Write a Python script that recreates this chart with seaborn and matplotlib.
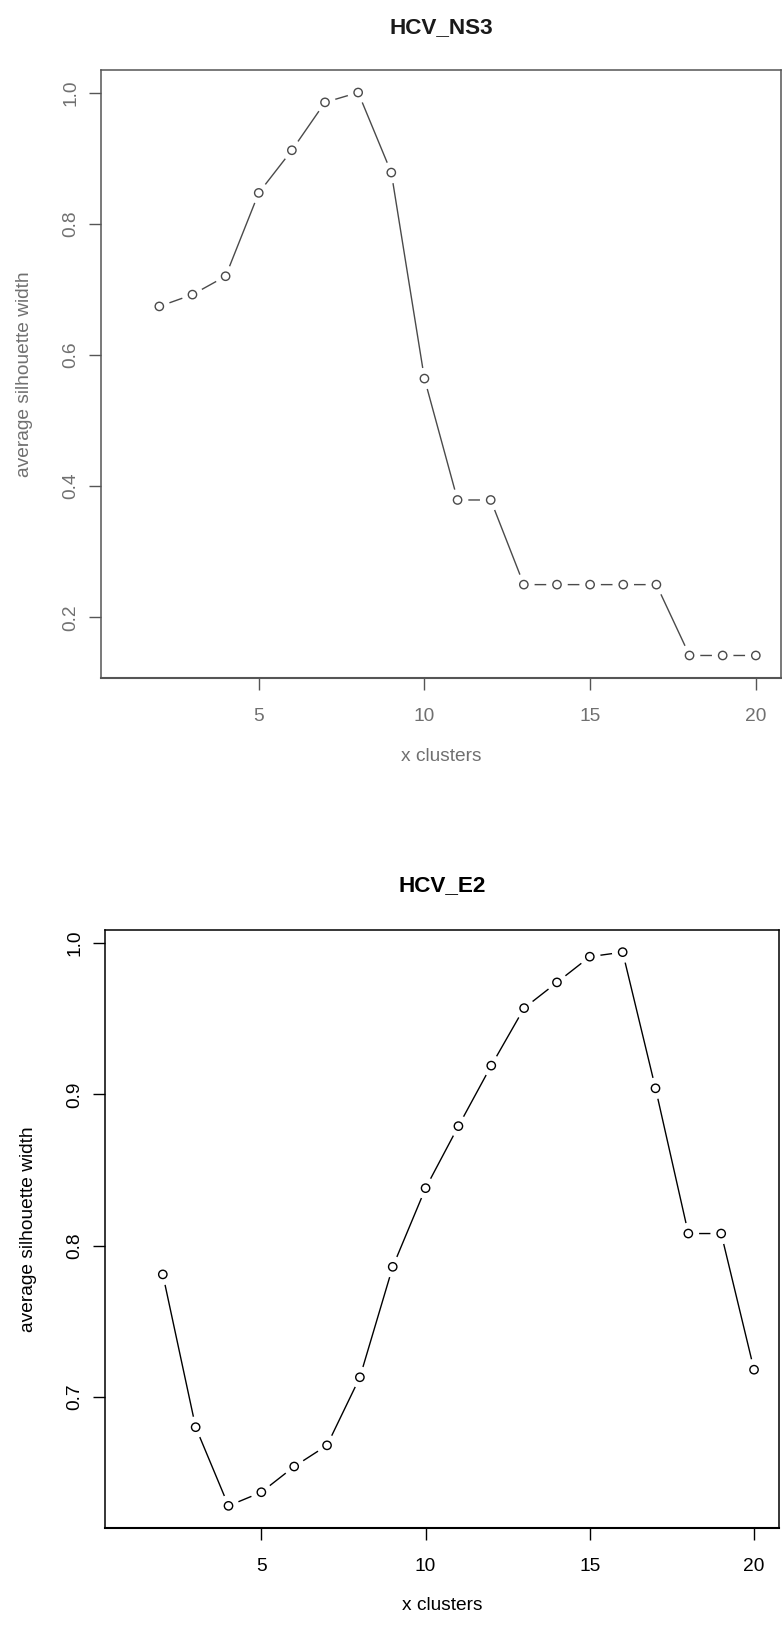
import numpy as np
import pandas as pd
import matplotlib
matplotlib.use("Agg")
import matplotlib.pyplot as plt
import seaborn as sns

# ---- data ----
clusters = list(range(2, 21))
ns3_values = [0.674, 0.692, 0.720, 0.847, 0.912, 0.985, 1.000, 0.878, 0.564,
              0.379, 0.379, 0.250, 0.250, 0.250, 0.250, 0.250, 0.142, 0.142, 0.142]
e2_values = [0.781, 0.680, 0.628, 0.637, 0.654, 0.668, 0.713, 0.786, 0.838,
             0.879, 0.919, 0.957, 0.974, 0.991, 0.994, 0.904, 0.808, 0.808, 0.718]
titles = ["HCV_NS3", "HCV_E2"]
x_ticks = [5, 10, 15, 20]
ns3_yticks = [0.2, 0.4, 0.6, 0.8, 1.0]
e2_yticks = [0.7, 0.8, 0.9, 1.0]
xlabel = "x clusters"
ylabel = "average silhouette width"

sns.set_style("ticks")
plt.rcParams['font.family'] = ['Liberation Sans', 'DejaVu Sans']

W, H = 782, 1629
DPI = 100
fig = plt.figure(figsize=(W / DPI, H / DPI), dpi=DPI)
fig.patch.set_facecolor("white")

def px_axes(left, top, right, bottom):
    return fig.add_axes([left / W, 1 - bottom / H, (right - left) / W, (bottom - top) / H])

panels = [
    dict(box=(101, 70, 781, 678), vals=ns3_values, yt=ns3_yticks, title=titles[0],
         line="#4a4a4a", text="#707070", spine="#555555", tcol="#1a1a1a", tgap=42),
    dict(box=(105, 930, 779, 1528), vals=e2_values, yt=e2_yticks, title=titles[1],
         line="black", text="black", spine="black", tcol="black", tgap=44),
]

for p in panels:
    l, t, r, b = p["box"]
    ax = px_axes(l, t, r, b)
    df = pd.DataFrame({"k": clusters, "s": p["vals"]})
    sns.lineplot(data=df, x="k", y="s", ax=ax, color=p["line"], linewidth=1.0,
                 estimator=None, sort=False, zorder=1)
    # white halo to create R "type='b'" gaps
    sns.scatterplot(data=df, x="k", y="s", ax=ax, s=15.5 ** 2, color="white",
                    edgecolor="none", linewidth=0, zorder=2)
    sns.scatterplot(data=df, x="k", y="s", ax=ax, s=6.0 ** 2, facecolor="none",
                    edgecolor=p["line"], linewidth=1.0, zorder=3, marker="o")
    vmin, vmax = min(p["vals"]), max(p["vals"])
    pad = 0.04 * (vmax - vmin)
    ax.set_ylim(vmin - pad, vmax + pad)
    ax.set_xlim(1 - 0.04 * 19, 20 + 0.04 * 19)
    ax.set_xticks(x_ticks)
    ax.set_yticks(p["yt"])
    ax.set_yticklabels([f"{v:.1f}" for v in p["yt"]])
    for s in ax.spines.values():
        s.set_visible(True)
        s.set_color(p["spine"])
        s.set_linewidth(1.1)
    ax.spines["bottom"].set_linewidth(1.5)
    ax.tick_params(axis="both", direction="out", length=8.5, width=1.0,
                   colors=p["spine"], labelcolor=p["text"], labelsize=13.8)
    ax.tick_params(axis="x", pad=13)
    ax.tick_params(axis="y", pad=7)
    for lab in ax.get_yticklabels():
        lab.set_rotation(90)
        lab.set_va("center")
    ax.set_xlabel(xlabel, fontsize=13.8, color=p["text"], va="center")
    ax.set_ylabel(ylabel, fontsize=13.8, color=p["text"], va="center")
    ax.xaxis.set_label_coords(0.5, -78 / (b - t))
    ax.yaxis.set_label_coords(-76 / (r - l), 0.5)
    ax.text(0.5, 1 + p["tgap"] / (b - t), p["title"], transform=ax.transAxes,
            ha="center", va="center", fontsize=16.2, fontweight="bold", color=p["tcol"])
    ax.grid(False)

fig.savefig("out.png", dpi=DPI, facecolor="white")
